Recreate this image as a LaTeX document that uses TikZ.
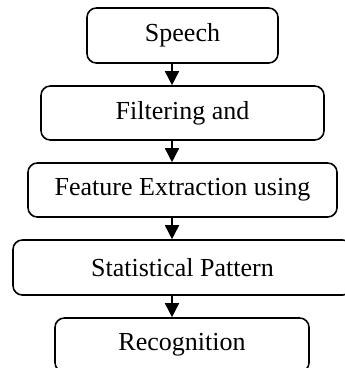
\documentclass[tikz,border=0pt]{standalone}
\usepackage{fontspec}
\setmainfont{Liberation Serif}
\usetikzlibrary{arrows.meta}
\begin{document}
\begin{tikzpicture}[x=0.75pt,y=-0.75pt,
  box/.style={draw, line width=1.2pt, rounded corners=7pt, inner sep=0pt,
    font=\fontsize{19.5}{23}\selectfont},
  arr/.style={line width=1.2pt, -{Triangle[width=10.5pt,length=10.5pt]}}]
\useasboundingbox (0,0) rectangle (344,368);
\node[box, minimum width=143.25pt, minimum height=41.25pt] (b1) at (182.5,35.5) {Speech};
\node[box, minimum width=212.25pt, minimum height=40.5pt] (b2) at (182.5,113) {Filtering and};
\node[box, minimum width=231.75pt, minimum height=40.5pt] (b3) at (182.5,190) {Feature Extraction using};
\node[box, minimum width=254.25pt, minimum height=41.25pt] (b4) at (182.5,267.5) {Statistical Pattern};
\node[box, minimum width=190.5pt, minimum height=40.5pt] (b5) at (182,345) {Recognition};
\coordinate (ax) at (172,0);
\draw[arr] (b1.south -| ax) -- (b2.north -| ax);
\draw[arr] (b2.south -| ax) -- (b3.north -| ax);
\draw[arr] (b3.south -| ax) -- (b4.north -| ax);
\draw[arr] (b4.south -| ax) -- (b5.north -| ax);
\end{tikzpicture}
\end{document}
